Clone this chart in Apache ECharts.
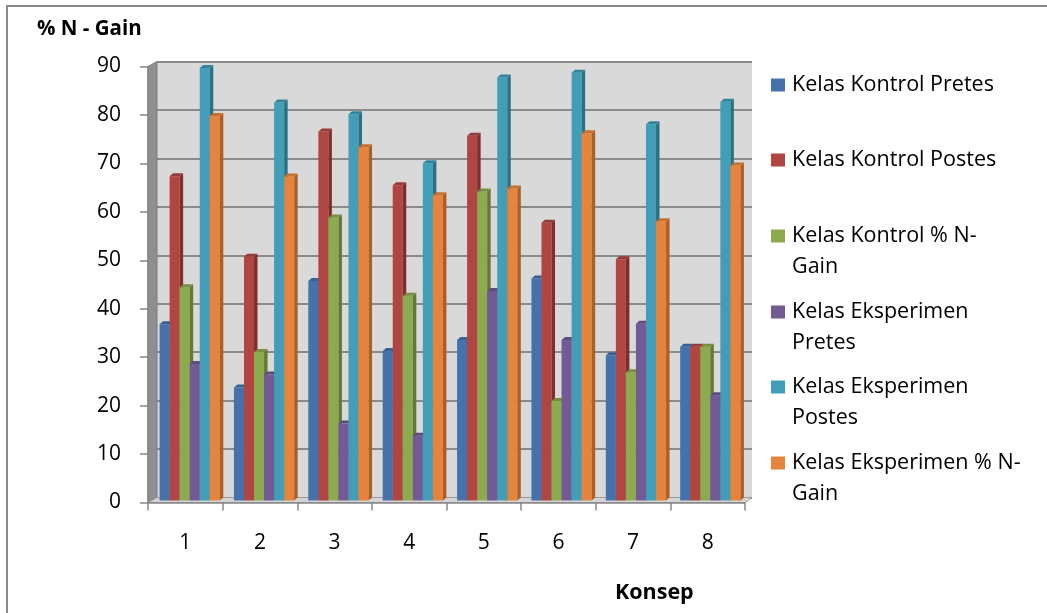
<!DOCTYPE html>
<html>
<head>
<meta charset="utf-8">
<script src="https://cdn.jsdelivr.net/npm/echarts@6/dist/echarts.min.js"></script>
<style>
  html, body { margin: 0; padding: 0; background: #ffffff; }
  #chart { width: 1047px; height: 613px; }
</style>
</head>
<body>
<div id="chart"></div>
<script>
// Concepts on the horizontal axis
const categories = ['1', '2', '3', '4', '5', '6', '7', '8'];

// Series names, in drawing order
const seriesNames = [
  'Kelas Kontrol Pretes',
  'Kelas Kontrol Postes',
  'Kelas Kontrol % N-\nGain',
  'Kelas Eksperimen\nPretes',
  'Kelas Eksperimen\nPostes',
  'Kelas Eksperimen % N-\nGain'
];

// Scores per concept
const kontrolPretes    = [36.7, 23.5, 45.7, 31.1, 33.4, 46.2, 30.2, 32.0];
const kontrolPostes    = [67.5, 50.7, 76.8, 65.6, 75.9, 57.8, 50.2, 32.0];
const kontrolGain      = [44.4, 30.9, 58.9, 42.6, 64.3, 20.7, 26.7, 32.0];
const eksperimenPretes = [28.4, 26.2, 16.0, 13.5, 43.6, 33.4, 36.8, 21.9];
const eksperimenPostes = [90.0, 82.8, 80.4, 70.2, 88.0, 89.0, 78.3, 83.0];
const eksperimenGain   = [80.0, 67.4, 73.5, 63.5, 64.9, 76.4, 58.1, 69.7];

// Value axis ticks
const yMin = 0, yMax = 90, yStep = 10;

const seriesValues = [kontrolPretes, kontrolPostes, kontrolGain,
                      eksperimenPretes, eksperimenPostes, eksperimenGain];

// Front / side / top face colours of each prism
const palette = [
  ['#4672ab', '#2f5282', '#3a6194'],
  ['#b04542', '#7e2f2d', '#943a37'],
  ['#8cab4f', '#627a35', '#768f41'],
  ['#735a95', '#4f3d69', '#5f4a7d'],
  ['#419db8', '#2a7186', '#32849b'],
  ['#e5843d', '#ad5f25', '#c66f2f']
];

const FONT = '"Open Sans", Lato, "DejaVu Sans", sans-serif';

// Frame geometry: front edge of the plot, back wall, and the plane the columns stand on
const front = { left: 148, top: 66.5, right: 745, bottom: 502.5 };
const back  = { left: 157, top: 61.5, right: 752, bottom: 497.5 };
const cols  = { left: 152.5, top: 68, right: 747.5, bottom: 500.5 };
const depthX = 3.5, depthY = 3;
const barFrac = 0.135;

const chart = echarts.init(document.getElementById('chart'), null, { renderer: 'canvas' });

function gridOf(g) {
  return { left: g.left, top: g.top, width: g.right - g.left, height: g.bottom - g.top, containLabel: false };
}

function prism(k) {
  return function (params, api) {
    const idx = api.value(0);
    const val = api.value(1);
    const base = api.coord([idx, 0]);
    const top = api.coord([idx, val]);
    const band = api.size([1, 0])[0];
    const w = band * barFrac;
    const x0 = base[0] - 3 * w + k * w;
    const yTop = top[1], yBot = base[1];
    const c = palette[k];
    return {
      type: 'group',
      children: [
        { type: 'rect', shape: { x: x0, y: yTop, width: w, height: yBot - yTop },
          style: { fill: c[0] } },
        { type: 'polygon', shape: { points: [[x0 + w, yTop], [x0 + w + depthX, yTop - depthY],
            [x0 + w + depthX, yBot - depthY], [x0 + w, yBot]] }, style: { fill: c[1] } },
        { type: 'polygon', shape: { points: [[x0, yTop], [x0 + depthX, yTop - depthY],
            [x0 + w + depthX, yTop - depthY], [x0 + w, yTop]] }, style: { fill: c[2] } }
      ]
    };
  };
}

const series = seriesNames.map((name, k) => ({
  name: name,
  type: 'custom',
  xAxisIndex: 2,
  yAxisIndex: 2,
  z: 3,
  itemStyle: { color: palette[k][0] },
  encode: { x: 0, y: 1 },
  renderItem: prism(k),
  data: seriesValues[k].map((v, i) => [i, v])
}));

// One legend block per series so every entry sits on its own row;
// two-line names get an empty leading line so the swatch lines up with the first line
const legendRowCenters = [85, 160, 236, 312, 387, 463];
const legendLine = 30.5;
const legends = seriesNames.map((name, k) => {
  const twoLines = name.indexOf('\n') >= 0;
  return {
    data: [name],
    orient: 'vertical',
    left: 771,
    top: legendRowCenters[k] - (twoLines ? 1.5 * legendLine : 0.5 * legendLine),
    padding: 0,
    itemWidth: 14,
    itemHeight: 13,
    icon: 'rect',
    selectedMode: false,
    formatter: twoLines ? (n => ' \n' + n) : (n => n),
    textStyle: {
      fontFamily: FONT, fontSize: 21.5, color: '#000', lineHeight: legendLine,
      padding: [0, 0, 0, 2]
    }
  };
});

const greyLine = '#868686';

const option = {
  animation: false,
  backgroundColor: '#ffffff',
  title: [
    { text: '% N - Gain', left: 32, top: 14,
      textStyle: { fontFamily: FONT, fontSize: 20.5, fontWeight: 'bold', color: '#000' } },
    { text: 'Konsep', left: 610, top: 577,
      textStyle: { fontFamily: FONT, fontSize: 21.5, fontWeight: 'bold', color: '#000' } }
  ],
  legend: legends,
  grid: [
    Object.assign(gridOf(front), { z: 5 }),
    Object.assign(gridOf(back), { show: true, backgroundColor: '#d9d9d9', borderWidth: 0, z: 0 }),
    gridOf(cols)
  ],
  xAxis: [
    { type: 'category', gridIndex: 0, data: categories, boundaryGap: true, z: 5,
      axisLine: { show: true, lineStyle: { color: greyLine, width: 1.5 } },
      axisTick: { show: true, interval: 0, length: 8, lineStyle: { color: greyLine, width: 1.5 } },
      axisLabel: { margin: 30, fontFamily: FONT, fontSize: 21, color: '#000' } },
    { type: 'category', gridIndex: 1, data: categories, show: false },
    { type: 'category', gridIndex: 2, data: categories, show: false }
  ],
  yAxis: [
    { type: 'value', gridIndex: 0, min: yMin, max: yMax, interval: yStep, z: 5,
      axisLine: { show: true, lineStyle: { color: greyLine, width: 1.5 } },
      axisTick: { show: true, length: 8, lineStyle: { color: greyLine, width: 1.5 } },
      splitLine: { show: false },
      axisLabel: { margin: 27, fontFamily: FONT, fontSize: 21, color: '#000' } },
    { type: 'value', gridIndex: 1, min: yMin, max: yMax, interval: yStep,
      axisLine: { show: false }, axisTick: { show: false }, axisLabel: { show: false },
      splitLine: { show: true, lineStyle: { color: '#8a8a8a', width: 2 } } },
    { type: 'value', gridIndex: 2, min: yMin, max: yMax, interval: yStep, show: false,
      splitLine: { show: false } }
  ],
  graphic: [
    // outer chart frame
    { type: 'rect', z: 10, silent: true,
      shape: { x: 7, y: 6, width: 1200, height: 800 },
      style: { fill: null, stroke: '#8a8a8a', lineWidth: 2 } },
    // left side wall
    { type: 'polygon', z: 1, silent: true,
      shape: { points: [[front.left, front.top], [back.left, back.top],
                        [back.left, back.bottom], [front.left, front.bottom]] },
      style: { fill: '#8f8f8f', stroke: '#7a7a7a', lineWidth: 1 } },
    // floor
    { type: 'polygon', z: 1, silent: true,
      shape: { points: [[front.left, front.bottom], [back.left, back.bottom],
                        [back.right, back.bottom], [front.right, front.bottom]] },
      style: { fill: '#d4d4d4', stroke: '#9a9a9a', lineWidth: 1 } }
  ],
  series: series
};

chart.setOption(option);
</script>
</body>
</html>
